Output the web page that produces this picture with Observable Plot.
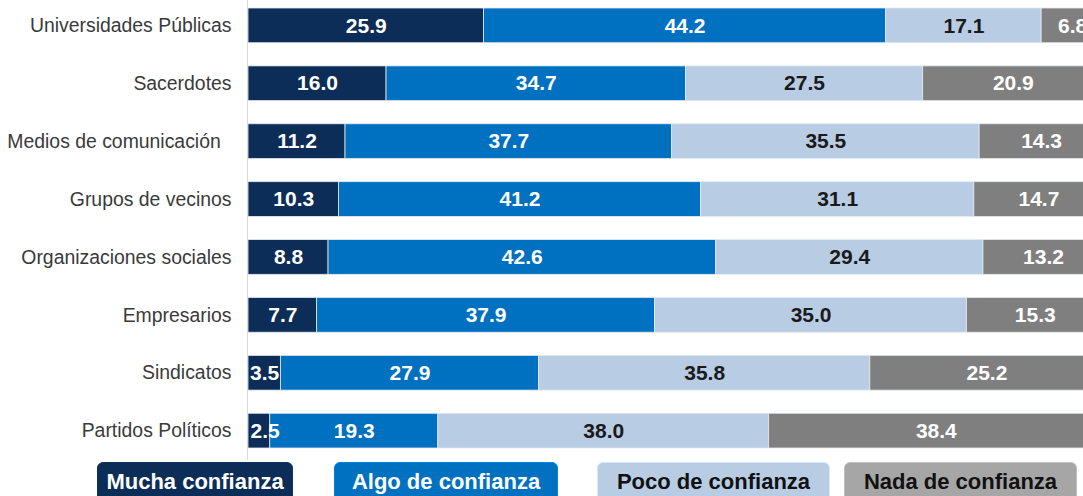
<!DOCTYPE html>
<html>
<head>
<meta charset="utf-8">
<script src="https://cdn.jsdelivr.net/npm/d3@7"></script>
<script src="https://cdn.jsdelivr.net/npm/@observablehq/plot@0.6"></script>
<style>
  html, body { margin: 0; padding: 0; background: #fff; overflow: hidden; }
  #chart { width: 1083px; height: 460px; }
  #legend { position: relative; width: 1083px; height: 36px; font-family: "Liberation Sans", Arial, sans-serif; }
  .lg { position: absolute; top: 2px; height: 40px; line-height: 38px; border-radius: 6px; box-sizing: border-box;
        text-align: center; font-weight: bold; font-size: 22px; white-space: nowrap; }
</style>
</head>
<body>
<div id="chart"></div>
<div id="legend"></div>
<script>
const categories = ["Universidades Públicas", "Sacerdotes", "Medios de comunicación", "Grupos de vecinos",
  "Organizaciones sociales", "Empresarios", "Sindicatos", "Partidos Políticos"];
const levels = ["Mucha confianza", "Algo de confianza", "Poco de confianza", "Nada de confianza"];
const mucha = [25.9, 16.0, 11.2, 10.3, 8.8, 7.7, 3.5, 2.5];
const algo  = [44.2, 34.7, 37.7, 41.2, 42.6, 37.9, 27.9, 19.3];
const poco  = [17.1, 27.5, 35.5, 31.1, 29.4, 35.0, 35.8, 38.0];
const nada  = [6.8, 20.9, 14.3, 14.7, 13.2, 15.3, 25.2, 38.4];
const barColors = ["#0c2d57", "#0070c0", "#b8cce4", "#7f7f7f"];
const labelColors = ["#ffffff", "#ffffff", "#1a1a1a", "#ffffff"];
const legendBg = ["#0c2d57", "#0070c0", "#b8cce4", "#a6a6a6"];
const legendText = ["#ffffff", "#ffffff", "#111111", "#111111"];

const series = [mucha, algo, poco, nada];
const data = [];
categories.forEach((c, i) => {
  levels.forEach((l, j) => {
    data.push({cat: c, level: l, value: series[j][i], fill: barColors[j], tfill: labelColors[j]});
  });
});
const fmt = d => d.value.toFixed(1);
const stackOpts = {x: "value", y: "cat", z: "level", order: levels, offset: "normalize"};

const chart = Plot.plot({
  width: 1083,
  height: 460,
  marginLeft: 248,
  marginRight: 0,
  marginTop: 0,
  marginBottom: 0,
  style: {fontFamily: "Liberation Sans, Arial, sans-serif", background: "#fff"},
  x: {domain: [0, 0.9766], axis: null},
  y: {domain: categories, range: [8, 448], paddingInner: 0.4, paddingOuter: 0, round: false, label: null},
  color: {type: "identity"},
  marks: [
    Plot.ruleX([0], {stroke: "#d9d9d9", strokeWidth: 1, dx: -1}),
    Plot.barX(data, Plot.stackX({
      ...stackOpts, fill: "fill", stroke: "#e4e9f0", strokeWidth: 0.8, clip: true
    })),
    Plot.text(data, Plot.stackX({
      ...stackOpts, text: d => d.value >= 3 ? fmt(d) : "", fill: "tfill",
      fontSize: 21, fontWeight: "bold", clip: true
    })),
    Plot.text(data, Plot.stackX1({
      ...stackOpts, text: d => d.value < 3 ? fmt(d) : "", fill: "tfill",
      textAnchor: "start", dx: 2, fontSize: 21, fontWeight: "bold"
    })),
    Plot.axisY({
      tickSize: 0, tickPadding: 17, fontSize: 19.4, color: "#3a3a3a",
      tickFormat: d => d === "Medios de comunicación" ? d + "\u00a0\u00a0" : d
    })
  ]
});
document.getElementById("chart").appendChild(chart);

const legendPos = [[97, 196], [334, 224], [597, 233], [844, 233]];
const legend = document.getElementById("legend");
levels.forEach((l, j) => {
  const d = document.createElement("div");
  d.className = "lg";
  d.textContent = l;
  d.style.left = legendPos[j][0] + "px";
  d.style.width = legendPos[j][1] + "px";
  d.style.background = legendBg[j];
  d.style.color = legendText[j];
  d.style.border = "1px solid " + d3.color(legendBg[j]).brighter(0.4);
  legend.appendChild(d);
});
</script>
</body>
</html>
